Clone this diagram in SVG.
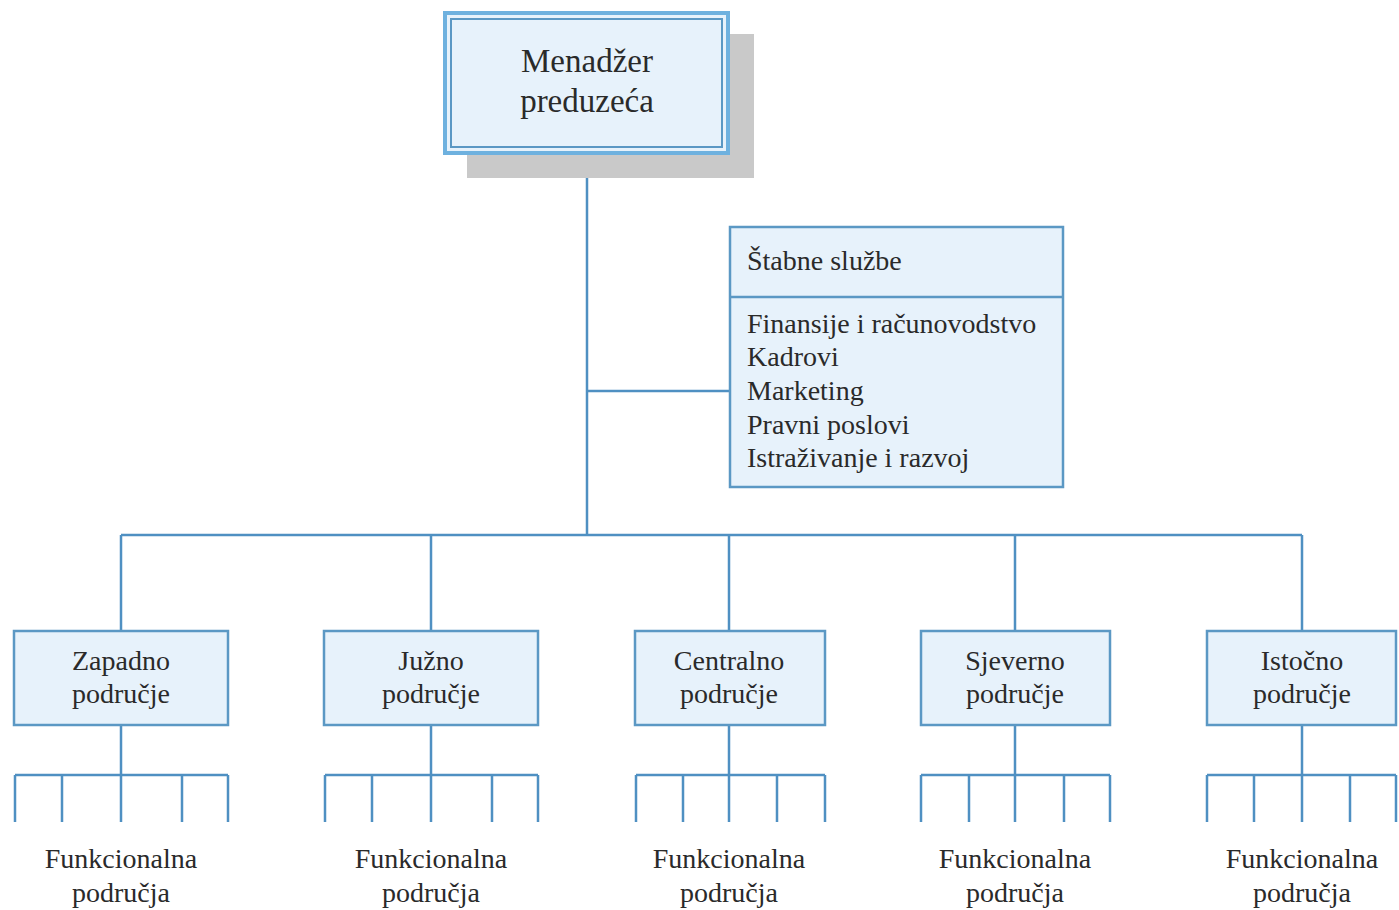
<svg xmlns="http://www.w3.org/2000/svg" width="1399" height="910" viewBox="0 0 1399 910">
  <style>
    .box { fill: #e7f2fb; stroke: #5b98c4; stroke-width: 2.5; }
    .line { fill: none; stroke: #4f90c2; stroke-width: 2.5; }
    .t { font-family: 'Liberation Serif', 'DejaVu Serif', serif; font-size: 28px; fill: #2a2a2a; }
    .c { text-anchor: middle; }
    .big { font-size: 33px; }
  </style>
  <rect width="1399" height="910" fill="#ffffff"/>

  <g id="connectors">
    <path class="line" d="M587 155 V535 M587 391 H729 M121 535 H1302"/>
    <path class="line" d="M121 535 V630 M431 535 V630 M729 535 V630 M1015 535 V630 M1302 535 V630"/>
    <!-- functional area branches -->
    <path class="line" d="M121 726 V822 M15 775 H228 M15 775 V822 M62 775 V822 M182 775 V822 M228 775 V822"/>
    <path class="line" d="M431 726 V822 M325 775 H538 M325 775 V822 M372 775 V822 M492 775 V822 M538 775 V822"/>
    <path class="line" d="M729 726 V822 M636 775 H825 M636 775 V822 M683 775 V822 M777 775 V822 M825 775 V822"/>
    <path class="line" d="M1015 726 V822 M921 775 H1110 M921 775 V822 M969 775 V822 M1064 775 V822 M1110 775 V822"/>
    <path class="line" d="M1302 726 V822 M1207 775 H1396 M1207 775 V822 M1254 775 V822 M1350 775 V822 M1396 775 V822"/>
  </g>

  <g id="manager">
    <rect x="467" y="34" width="287" height="144" fill="#c9c9c9"/>
    <rect x="445" y="13" width="283" height="140" fill="#e7f2fb" stroke="#6eb1df" stroke-width="4"/>
    <rect x="451" y="19" width="271" height="128" fill="none" stroke="#5b98c4" stroke-width="2"/>
    <text class="t c big" x="587" y="72">Menadžer</text>
    <text class="t c big" x="587" y="112">preduzeća</text>
  </g>

  <g id="staff">
    <rect class="box" x="730" y="227" width="333" height="260"/>
    <line x1="730" y1="297" x2="1063" y2="297" stroke="#5b98c4" stroke-width="2.5"/>
    <text class="t" x="747" y="270">Štabne službe</text>
    <text class="t" x="747" y="333">Finansije i računovodstvo</text>
    <text class="t" x="747" y="366">Kadrovi</text>
    <text class="t" x="747" y="400">Marketing</text>
    <text class="t" x="747" y="434">Pravni poslovi</text>
    <text class="t" x="747" y="467">Istraživanje i razvoj</text>
  </g>

  <g id="zapadno">
    <rect class="box" x="14" y="631" width="214" height="94"/>
    <text class="t c" x="121" y="670">Zapadno</text>
    <text class="t c" x="121" y="703">područje</text>
    <text class="t c" x="121" y="868">Funkcionalna</text>
    <text class="t c" x="121" y="902">područja</text>
  </g>

  <g id="juzno">
    <rect class="box" x="324" y="631" width="214" height="94"/>
    <text class="t c" x="431" y="670">Južno</text>
    <text class="t c" x="431" y="703">područje</text>
    <text class="t c" x="431" y="868">Funkcionalna</text>
    <text class="t c" x="431" y="902">područja</text>
  </g>

  <g id="centralno">
    <rect class="box" x="635" y="631" width="190" height="94"/>
    <text class="t c" x="729" y="670">Centralno</text>
    <text class="t c" x="729" y="703">područje</text>
    <text class="t c" x="729" y="868">Funkcionalna</text>
    <text class="t c" x="729" y="902">područja</text>
  </g>

  <g id="sjeverno">
    <rect class="box" x="921" y="631" width="189" height="94"/>
    <text class="t c" x="1015" y="670">Sjeverno</text>
    <text class="t c" x="1015" y="703">područje</text>
    <text class="t c" x="1015" y="868">Funkcionalna</text>
    <text class="t c" x="1015" y="902">područja</text>
  </g>

  <g id="istocno">
    <rect class="box" x="1207" y="631" width="189" height="94"/>
    <text class="t c" x="1302" y="670">Istočno</text>
    <text class="t c" x="1302" y="703">područje</text>
    <text class="t c" x="1302" y="868">Funkcionalna</text>
    <text class="t c" x="1302" y="902">područja</text>
  </g>
</svg>
